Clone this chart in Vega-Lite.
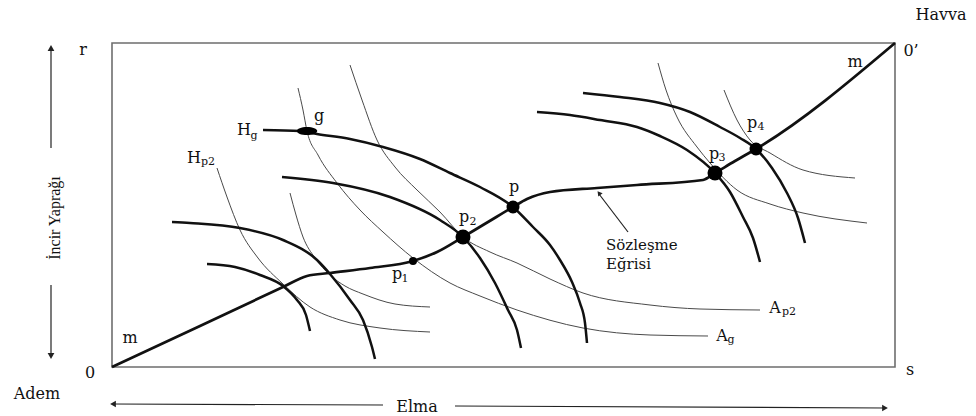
{
  "$schema": "https://vega.github.io/schema/vega-lite/v6.json",
  "width": 976,
  "height": 416,
  "padding": 0,
  "autosize": {"type": "fit", "contains": "padding"},
  "background": "white",
  "config": {"view": {"stroke": null}},
  "datasets": {
    "box": [{"x": 0, "y": 0, "x2": 783, "y2": 324}],
    "havva": [
      {"c": "T1", "i": 0, "x": 95, "y": 103}, {"c": "T1", "i": 1, "x": 123, "y": 100}, {"c": "T1", "i": 2, "x": 148, "y": 92}, {"c": "T1", "i": 3, "x": 171, "y": 81}, {"c": "T1", "i": 4, "x": 185, "y": 67}, {"c": "T1", "i": 5, "x": 194, "y": 52}, {"c": "T1", "i": 6, "x": 198, "y": 36},
      {"c": "T2", "i": 0, "x": 60, "y": 145}, {"c": "T2", "i": 1, "x": 78, "y": 144}, {"c": "T2", "i": 2, "x": 128, "y": 139}, {"c": "T2", "i": 3, "x": 171, "y": 127}, {"c": "T2", "i": 4, "x": 205, "y": 107}, {"c": "T2", "i": 5, "x": 218, "y": 93}, {"c": "T2", "i": 6, "x": 238, "y": 67}, {"c": "T2", "i": 7, "x": 251, "y": 47}, {"c": "T2", "i": 8, "x": 260, "y": 20}, {"c": "T2", "i": 9, "x": 263, "y": 8},
      {"c": "T3", "i": 0, "x": 170, "y": 190}, {"c": "T3", "i": 1, "x": 221, "y": 184}, {"c": "T3", "i": 2, "x": 278, "y": 170}, {"c": "T3", "i": 3, "x": 328, "y": 147}, {"c": "T3", "i": 4, "x": 351, "y": 130}, {"c": "T3", "i": 5, "x": 368, "y": 109}, {"c": "T3", "i": 6, "x": 383, "y": 84}, {"c": "T3", "i": 7, "x": 396, "y": 57}, {"c": "T3", "i": 8, "x": 405, "y": 37}, {"c": "T3", "i": 9, "x": 409, "y": 19},
      {"c": "T4", "i": 0, "x": 151, "y": 237}, {"c": "T4", "i": 1, "x": 188, "y": 236}, {"c": "T4", "i": 2, "x": 205, "y": 233}, {"c": "T4", "i": 3, "x": 238, "y": 228}, {"c": "T4", "i": 4, "x": 271, "y": 220}, {"c": "T4", "i": 5, "x": 308, "y": 208}, {"c": "T4", "i": 6, "x": 338, "y": 194}, {"c": "T4", "i": 7, "x": 368, "y": 180}, {"c": "T4", "i": 8, "x": 401, "y": 160}, {"c": "T4", "i": 9, "x": 421, "y": 140}, {"c": "T4", "i": 10, "x": 438, "y": 122}, {"c": "T4", "i": 11, "x": 448, "y": 107}, {"c": "T4", "i": 12, "x": 460, "y": 85}, {"c": "T4", "i": 13, "x": 468, "y": 64}, {"c": "T4", "i": 14, "x": 473, "y": 44}, {"c": "T4", "i": 15, "x": 475, "y": 24},
      {"c": "T5", "i": 0, "x": 425, "y": 255}, {"c": "T5", "i": 1, "x": 458, "y": 252}, {"c": "T5", "i": 2, "x": 488, "y": 247}, {"c": "T5", "i": 3, "x": 525, "y": 240}, {"c": "T5", "i": 4, "x": 548, "y": 231}, {"c": "T5", "i": 5, "x": 575, "y": 217}, {"c": "T5", "i": 6, "x": 603, "y": 194}, {"c": "T5", "i": 7, "x": 618, "y": 175}, {"c": "T5", "i": 8, "x": 631, "y": 150}, {"c": "T5", "i": 9, "x": 641, "y": 129}, {"c": "T5", "i": 10, "x": 648, "y": 105},
      {"c": "T6", "i": 0, "x": 471, "y": 274}, {"c": "T6", "i": 1, "x": 508, "y": 270}, {"c": "T6", "i": 2, "x": 548, "y": 264}, {"c": "T6", "i": 3, "x": 578, "y": 255}, {"c": "T6", "i": 4, "x": 608, "y": 240}, {"c": "T6", "i": 5, "x": 628, "y": 229}, {"c": "T6", "i": 6, "x": 644, "y": 218}, {"c": "T6", "i": 7, "x": 660, "y": 199}, {"c": "T6", "i": 8, "x": 675, "y": 174}, {"c": "T6", "i": 9, "x": 686, "y": 149}, {"c": "T6", "i": 10, "x": 693, "y": 124}
    ],
    "adem": [
      {"c": "t1", "i": 0, "x": 105, "y": 199}, {"c": "t1", "i": 1, "x": 115, "y": 170}, {"c": "t1", "i": 2, "x": 128, "y": 137}, {"c": "t1", "i": 3, "x": 146, "y": 109}, {"c": "t1", "i": 4, "x": 171, "y": 83}, {"c": "t1", "i": 5, "x": 198, "y": 60}, {"c": "t1", "i": 6, "x": 228, "y": 47}, {"c": "t1", "i": 7, "x": 268, "y": 39}, {"c": "t1", "i": 8, "x": 318, "y": 35},
      {"c": "t2", "i": 0, "x": 178, "y": 174}, {"c": "t2", "i": 1, "x": 184, "y": 152}, {"c": "t2", "i": 2, "x": 191, "y": 130}, {"c": "t2", "i": 3, "x": 203, "y": 109}, {"c": "t2", "i": 4, "x": 218, "y": 92}, {"c": "t2", "i": 5, "x": 233, "y": 81}, {"c": "t2", "i": 6, "x": 251, "y": 73}, {"c": "t2", "i": 7, "x": 283, "y": 63}, {"c": "t2", "i": 8, "x": 318, "y": 60},
      {"c": "t3", "i": 0, "x": 186, "y": 279}, {"c": "t3", "i": 1, "x": 191, "y": 257}, {"c": "t3", "i": 2, "x": 195, "y": 236}, {"c": "t3", "i": 3, "x": 206, "y": 212}, {"c": "t3", "i": 4, "x": 225, "y": 184}, {"c": "t3", "i": 5, "x": 248, "y": 157}, {"c": "t3", "i": 6, "x": 271, "y": 135}, {"c": "t3", "i": 7, "x": 301, "y": 109}, {"c": "t3", "i": 8, "x": 338, "y": 84}, {"c": "t3", "i": 9, "x": 368, "y": 71}, {"c": "t3", "i": 10, "x": 405, "y": 57}, {"c": "t3", "i": 11, "x": 471, "y": 39}, {"c": "t3", "i": 12, "x": 538, "y": 32}, {"c": "t3", "i": 13, "x": 596, "y": 31},
      {"c": "t4", "i": 0, "x": 238, "y": 302}, {"c": "t4", "i": 1, "x": 250, "y": 267}, {"c": "t4", "i": 2, "x": 265, "y": 227}, {"c": "t4", "i": 3, "x": 283, "y": 200}, {"c": "t4", "i": 4, "x": 305, "y": 177}, {"c": "t4", "i": 5, "x": 328, "y": 155}, {"c": "t4", "i": 6, "x": 351, "y": 130}, {"c": "t4", "i": 7, "x": 378, "y": 115}, {"c": "t4", "i": 8, "x": 405, "y": 104}, {"c": "t4", "i": 9, "x": 438, "y": 88}, {"c": "t4", "i": 10, "x": 471, "y": 74}, {"c": "t4", "i": 11, "x": 538, "y": 62}, {"c": "t4", "i": 12, "x": 588, "y": 58}, {"c": "t4", "i": 13, "x": 648, "y": 57},
      {"c": "t5", "i": 0, "x": 546, "y": 304}, {"c": "t5", "i": 1, "x": 554, "y": 277}, {"c": "t5", "i": 2, "x": 565, "y": 250}, {"c": "t5", "i": 3, "x": 585, "y": 220}, {"c": "t5", "i": 4, "x": 598, "y": 204}, {"c": "t5", "i": 5, "x": 625, "y": 177}, {"c": "t5", "i": 6, "x": 658, "y": 163}, {"c": "t5", "i": 7, "x": 691, "y": 154}, {"c": "t5", "i": 8, "x": 755, "y": 144},
      {"c": "t6", "i": 0, "x": 612, "y": 277}, {"c": "t6", "i": 1, "x": 625, "y": 247}, {"c": "t6", "i": 2, "x": 638, "y": 227}, {"c": "t6", "i": 3, "x": 658, "y": 214}, {"c": "t6", "i": 4, "x": 691, "y": 197}, {"c": "t6", "i": 5, "x": 743, "y": 189}
    ],
    "contract": [
      {"i": 0, "x": 0, "y": 0}, {"i": 1, "x": 88, "y": 41}, {"i": 2, "x": 171, "y": 80}, {"i": 3, "x": 195, "y": 91}, {"i": 4, "x": 218, "y": 94}, {"i": 5, "x": 258, "y": 99}, {"i": 6, "x": 301, "y": 106}, {"i": 7, "x": 325, "y": 115}, {"i": 8, "x": 351, "y": 130}, {"i": 9, "x": 376, "y": 145}, {"i": 10, "x": 401, "y": 160}, {"i": 11, "x": 415, "y": 168}, {"i": 12, "x": 438, "y": 175}, {"i": 13, "x": 485, "y": 179}, {"i": 14, "x": 525, "y": 182}, {"i": 15, "x": 591, "y": 187}, {"i": 16, "x": 603, "y": 194}, {"i": 17, "x": 623, "y": 206}, {"i": 18, "x": 644, "y": 218}, {"i": 19, "x": 783, "y": 324}
    ],
    "arrows": [
      {"a": "up", "i": 0, "x": -61, "y": 219}, {"a": "up", "i": 1, "x": -61, "y": 318},
      {"a": "down", "i": 0, "x": -61, "y": 82}, {"a": "down", "i": 1, "x": -61, "y": 12},
      {"a": "left", "i": 0, "x": 271, "y": -38}, {"a": "left", "i": 1, "x": 1, "y": -37},
      {"a": "right", "i": 0, "x": 343, "y": -39}, {"a": "right", "i": 1, "x": 773, "y": -41},
      {"a": "note", "i": 0, "x": 516, "y": 135}, {"a": "note", "i": 1, "x": 487, "y": 173}
    ],
    "heads": [
      {"a": "up", "x": -61, "y": 319},
      {"a": "down", "x": -61, "y": 11},
      {"a": "left", "x": 1, "y": -37},
      {"a": "right", "x": 773, "y": -41},
      {"a": "note", "x": 487, "y": 174}
    ],
    "dots": [
      {"n": "g", "x": 195, "y": 236},
      {"n": "p1", "x": 301, "y": 106},
      {"n": "p2", "x": 351, "y": 130},
      {"n": "p", "x": 401, "y": 160},
      {"n": "p3", "x": 603, "y": 194},
      {"n": "p4", "x": 644, "y": 218}
    ],
    "labels": [
      {"t": "Havva", "x": 829, "y": 352}, {"t": "r", "x": -29, "y": 317}, {"t": "0’", "x": 799, "y": 316},
      {"t": "m", "x": 743, "y": 305}, {"t": "m", "x": 18, "y": 29}, {"t": "0", "x": -22, "y": -6},
      {"t": "Adem", "x": -75, "y": -27}, {"t": "s", "x": 798, "y": -3}, {"t": "Elma", "x": 305, "y": -40},
      {"t": "g", "x": 207, "y": 251}, {"t": "p", "x": 402, "y": 180}, {"t": "H", "x": 132, "y": 237},
      {"t": "H", "x": 82, "y": 209}, {"t": "p", "x": 352, "y": 150}, {"t": "p", "x": 285, "y": 93},
      {"t": "p", "x": 602, "y": 213}, {"t": "p", "x": 640, "y": 244}, {"t": "A", "x": 663, "y": 59},
      {"t": "A", "x": 610, "y": 31}
    ],
    "subs": [
      {"t": "g", "x": 142, "y": 231}, {"t": "p2", "x": 96, "y": 205}, {"t": "2", "x": 361, "y": 145},
      {"t": "1", "x": 293, "y": 88}, {"t": "3", "x": 610, "y": 209}, {"t": "4", "x": 649, "y": 240},
      {"t": "p2", "x": 677, "y": 55}, {"t": "g", "x": 619, "y": 27}
    ],
    "notes": [
      {"t": "Sözleşme", "x": 494, "y": 122}, {"t": "Eğrisi", "x": 494, "y": 103}
    ],
    "vlabel": [{"t": "İncir Yaprağı", "x": -57, "y": 149}]
  },
  "encoding": {
    "x": {"field": "x", "type": "quantitative", "scale": {"domain": [-112, 864], "nice": false, "zero": false}, "axis": null},
    "y": {"field": "y", "type": "quantitative", "scale": {"domain": [-49, 367], "nice": false, "zero": false}, "axis": null}
  },
  "layer": [
    {"data": {"name": "box"}, "mark": {"type": "rect", "fill": null, "stroke": "#6e6e6e", "strokeWidth": 1.6}, "encoding": {"x2": {"field": "x2"}, "y2": {"field": "y2"}}},
    {"data": {"name": "adem"}, "mark": {"type": "line", "interpolate": "monotone", "stroke": "#4a4a4a", "strokeWidth": 1}, "encoding": {"detail": {"field": "c"}, "order": {"field": "i", "type": "quantitative"}}},
    {"data": {"name": "havva"}, "mark": {"type": "line", "interpolate": "monotone", "stroke": "#111111", "strokeWidth": 2.5}, "encoding": {"detail": {"field": "c"}, "order": {"field": "i", "type": "quantitative"}}},
    {"data": {"name": "contract"}, "mark": {"type": "line", "interpolate": "monotone", "stroke": "#111111", "strokeWidth": 2.7}, "encoding": {"order": {"field": "i", "type": "quantitative"}}},
    {"data": {"name": "arrows"}, "mark": {"type": "line", "stroke": "#222222", "strokeWidth": 1.2}, "encoding": {"detail": {"field": "a"}, "order": {"field": "i", "type": "quantitative"}}},
    {"data": {"name": "heads"}, "transform": [{"filter": "datum.a == 'up'"}], "mark": {"type": "point", "shape": "triangle-up", "filled": true, "color": "#222222", "size": 45, "angle": 0, "opacity": 1}},
    {"data": {"name": "heads"}, "transform": [{"filter": "datum.a == 'down'"}], "mark": {"type": "point", "shape": "triangle-up", "filled": true, "color": "#222222", "size": 45, "angle": 180, "opacity": 1}},
    {"data": {"name": "heads"}, "transform": [{"filter": "datum.a == 'left'"}], "mark": {"type": "point", "shape": "triangle-up", "filled": true, "color": "#222222", "size": 45, "angle": 270, "opacity": 1}},
    {"data": {"name": "heads"}, "transform": [{"filter": "datum.a == 'right'"}], "mark": {"type": "point", "shape": "triangle-up", "filled": true, "color": "#222222", "size": 45, "angle": 90, "opacity": 1}},
    {"data": {"name": "heads"}, "transform": [{"filter": "datum.a == 'note'"}], "mark": {"type": "point", "shape": "triangle-up", "filled": true, "color": "#222222", "size": 30, "angle": 322, "opacity": 1}},
    {"data": {"name": "dots"}, "transform": [{"filter": "datum.n == 'g'"}], "mark": {"type": "point", "shape": "M -1 0 A 1 0.4 0 1 1 1 0 A 1 0.4 0 1 1 -1 0 Z", "filled": true, "color": "#000000", "size": 420, "opacity": 1}},
    {"data": {"name": "dots"}, "transform": [{"filter": "datum.n == 'p2' || datum.n == 'p3'"}], "mark": {"type": "circle", "color": "#000000", "size": 225, "opacity": 1}},
    {"data": {"name": "dots"}, "transform": [{"filter": "datum.n == 'p' || datum.n == 'p4'"}], "mark": {"type": "circle", "color": "#000000", "size": 169, "opacity": 1}},
    {"data": {"name": "dots"}, "transform": [{"filter": "datum.n == 'p1'"}], "mark": {"type": "circle", "color": "#000000", "size": 64, "opacity": 1}},
    {"data": {"name": "labels"}, "mark": {"type": "text", "font": "DejaVu Serif", "fontSize": 16, "align": "center", "baseline": "middle", "color": "#111111"}, "encoding": {"text": {"field": "t"}}},
    {"data": {"name": "subs"}, "mark": {"type": "text", "font": "DejaVu Serif", "fontSize": 11, "align": "center", "baseline": "middle", "color": "#111111"}, "encoding": {"text": {"field": "t"}}},
    {"data": {"name": "notes"}, "mark": {"type": "text", "font": "DejaVu Serif", "fontSize": 15, "align": "left", "baseline": "middle", "color": "#111111"}, "encoding": {"text": {"field": "t"}}},
    {"data": {"name": "vlabel"}, "mark": {"type": "text", "font": "Liberation Serif", "fontSize": 16, "align": "center", "baseline": "middle", "angle": 270, "color": "#111111"}, "encoding": {"text": {"field": "t"}}}
  ]
}
